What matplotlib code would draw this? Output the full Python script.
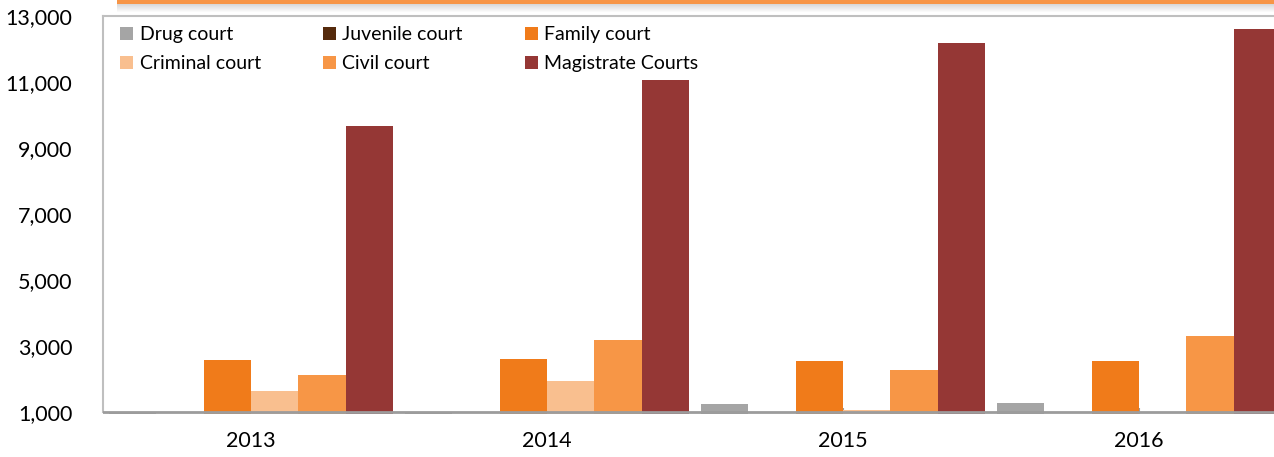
import numpy as np
import matplotlib
matplotlib.use('Agg')
import matplotlib.pyplot as plt

plt.rcParams['font.family'] = ['Lato', 'DejaVu Sans']

# Data
years = ['2013', '2014', '2015', '2016']
series = ['Drug court', 'Juvenile court', 'Family court',
          'Criminal court', 'Civil court', 'Magistrate Courts']
drug = [980, 980, 1260, 1290]
juvenile = [150, 150, 150, 150]
family = [2580, 2600, 2540, 2560]
criminal = [1645, 1950, 1060, 900]
civil = [2140, 3190, 2280, 3310]
magistrate = [9670, 11050, 12190, 12620]
colors = ['#A5A5A5', '#552A0C', '#F07B1A', '#F9BF8F', '#F79646', '#953735']

values = [drug, juvenile, family, criminal, civil, magistrate]

W, H = 1274, 457
fig = plt.figure(figsize=(W / 100, H / 100), dpi=100)

# axes in pixel terms: left 103, right runs past the image edge
left_px, right_px = 103, 103 + 4 * 296
top_px, bottom_px = 16, 414.3
ax = fig.add_axes([left_px / W, 1 - bottom_px / H,
                   (right_px - left_px) / W, (bottom_px - top_px) / H])

x = np.arange(len(years))
bw = 0.16
for i, (name, vals) in enumerate(zip(series, values)):
    offs = (i - 2.5) * bw
    ax.bar(x + offs, vals, width=bw, color=colors[i], label=name,
           edgecolor='none', zorder=2)

ax.set_xlim(-0.5, len(years) - 0.5)
ax.set_ylim(940, 13000)
ax.axhline(1000, color='#9C9C9C', lw=2, zorder=3)

ax.set_yticks(range(1000, 13001, 2000))
ax.set_yticklabels(['{:,}'.format(v) for v in range(1000, 13001, 2000)])
ax.set_xticks(x)
ax.set_xticklabels(years)
ax.tick_params(axis='y', length=0, pad=22, labelsize=15.5)
ax.tick_params(axis='x', direction='in', length=4, width=1.5,
               color='#9C9C9C', pad=12, labelsize=15.5)

for s in ['top', 'left']:
    ax.spines[s].set_color('#BFBFBF')
    ax.spines[s].set_linewidth(1.5)
ax.spines['left'].set_bounds(1000, 13000)
ax.spines['bottom'].set_visible(False)
ax.spines['right'].set_visible(False)

# legend: 2 rows x 3 columns, row-wise order
h, l = ax.get_legend_handles_labels()
order = [0, 3, 1, 4, 2, 5]
ax.legend([h[k] for k in order], [l[k] for k in order], ncol=3,
          loc='upper left', bbox_to_anchor=(0.003, 1.008), frameon=False,
          fontsize=14, handlelength=0.65, handleheight=0.65,
          handletextpad=0.35, columnspacing=3.2, labelspacing=0.62,
          borderaxespad=0.3)

# orange title-box edge with shadow at the very top
x0 = 117 / W
band = fig.add_axes([x0, 1 - 13 / H, 1 - x0, 13 / H], zorder=5)
grad = np.ones((13, 1, 4))
grad[:, 0, :3] = 0.5
grad[:, 0, 3] = np.linspace(0.45, 0.0, 13)
grad[:4, 0, :3] = [0.969, 0.588, 0.275]
grad[:4, 0, 3] = 1.0
band.imshow(grad, aspect='auto', interpolation='bilinear', extent=(0, 1, 0, 1))
band.axis('off')

fig.savefig('out.png', dpi=100)
